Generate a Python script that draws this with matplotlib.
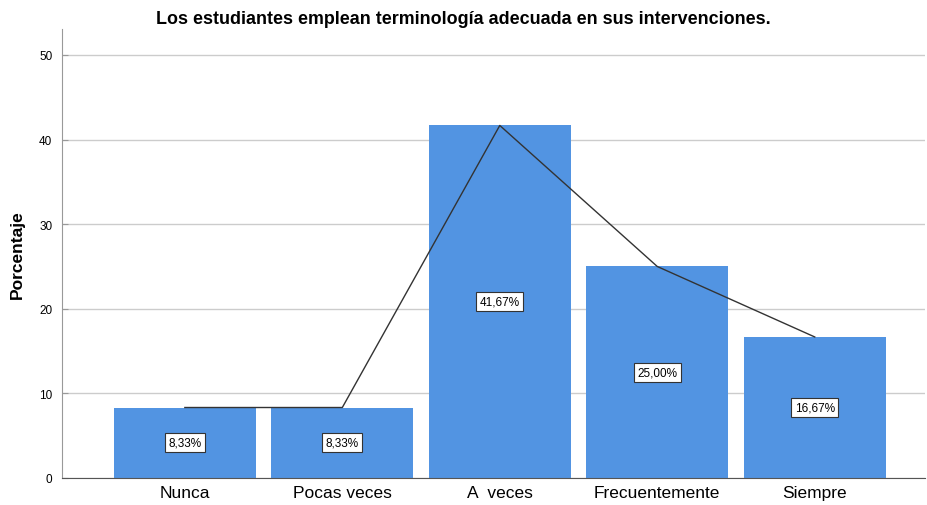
import matplotlib
matplotlib.use("Agg")
import matplotlib.pyplot as plt

categories = ["Nunca", "Pocas veces", "A  veces", "Frecuentemente", "Siempre"]
values = [8.33, 8.33, 41.67, 25.00, 16.67]
labels = ["8,33%", "8,33%", "41,67%", "25,00%", "16,67%"]
yticks = [0, 10, 20, 30, 40, 50]

plt.rcParams['font.family'] = ['Liberation Sans', 'DejaVu Sans']

fig = plt.figure(figsize=(9.27, 5.06), dpi=100)
ax = fig.add_axes([0.0669, 0.0534, 0.9309, 0.8873])

x = list(range(len(categories)))
ax.bar(x, values, width=0.9, color="#5294E2", zorder=2)
ax.plot(x, values, color="#333333", linewidth=1.0, zorder=3)

for xi, v, lab in zip(x, values, labels):
    ax.text(xi, v / 2, lab, ha="center", va="center", fontsize=8.5, zorder=4,
            bbox=dict(boxstyle="square,pad=0.28", facecolor="white", edgecolor="#333333", linewidth=0.8))

ax.set_xlim(-0.78, 4.70)
ax.set_ylim(0, 53.07)
ax.set_yticks(yticks)
ax.set_yticklabels([str(t) for t in yticks], fontsize=8.5)
ax.set_xticks(x)
ax.set_xticklabels(categories, fontsize=12.5)
ax.tick_params(axis="x", length=0, pad=5)
ax.tick_params(axis="y", length=4, color="#999999", pad=7, direction="in")
ax.yaxis.grid(True, color="#cccccc", linewidth=1.0, zorder=0)
ax.set_axisbelow(True)

for s in ["top", "right"]:
    ax.spines[s].set_visible(False)
ax.spines["left"].set_color("#999999")
ax.spines["bottom"].set_color("#555555")

ax.set_ylabel("Porcentaje", fontsize=12.5, fontweight="bold", labelpad=10)
fig.text(0.5, 0.962, "Los estudiantes emplean terminología adecuada en sus intervenciones.",
         ha="center", va="center", fontsize=12.9, fontweight="bold")

fig.savefig("out.png", dpi=100)
